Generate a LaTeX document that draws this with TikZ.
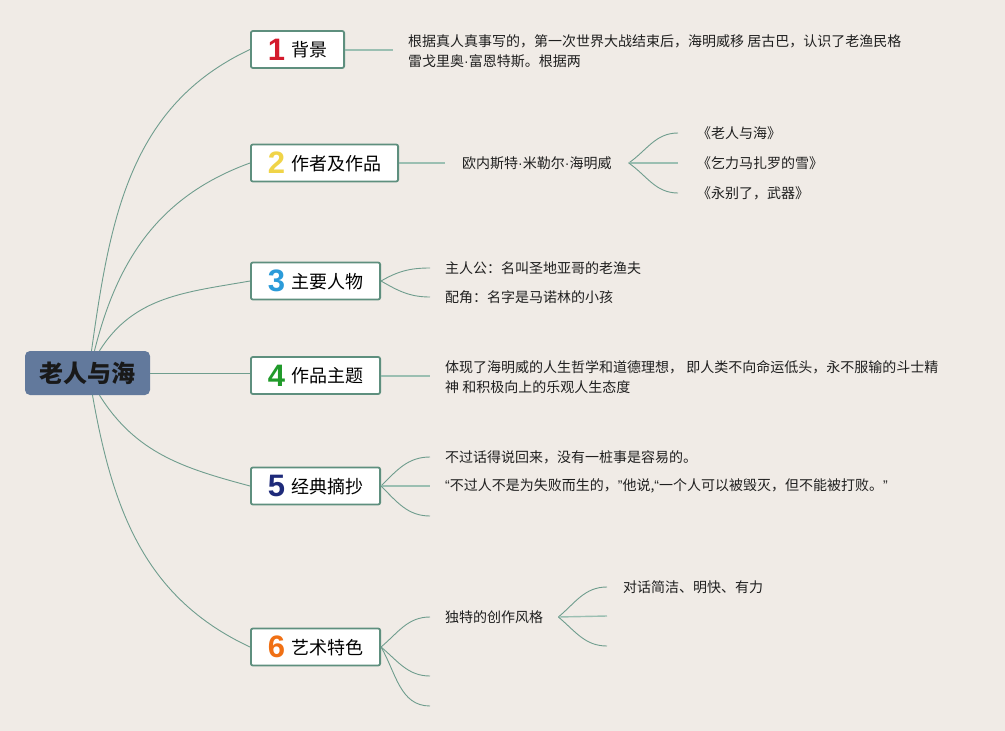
\documentclass[tikz,border=0pt]{standalone}
\usepackage{fontspec}
\setmainfont{Noto Sans CJK SC}
\newfontfamily\numfont{Liberation Sans}
\newfontfamily\latinfont{Liberation Sans}
\usepackage{xcolor}

\definecolor{paper}{HTML}{F0EBE6}
\definecolor{linegreen}{HTML}{6F9D8E}
\definecolor{stubgreen}{HTML}{9BBFB2}
\definecolor{boxline}{HTML}{5E8F7E}
\definecolor{rootfill}{HTML}{62799C}
\definecolor{numred}{HTML}{D41A2C}
\definecolor{numyellow}{HTML}{F0D448}
\definecolor{numblue}{HTML}{2B9BD9}
\definecolor{numgreen}{HTML}{209A2A}
\definecolor{numnavy}{HTML}{1E2A7A}
\definecolor{numorange}{HTML}{F07014}

\newcommand{\topicnum}[3]{\raisebox{-2pt}{\numfont\bfseries\fontsize{31}{31}\selectfont\color{#1}#2}\hspace{6pt}\raisebox{1.5pt}{#3}}
\newcommand{\mdot}{{\latinfont\textperiodcentered}}
\newcommand{\oq}{{\latinfont “}}
\newcommand{\cq}{{\latinfont ”}}

\begin{document}
\begin{tikzpicture}[
    x=1pt, y=1pt,
    rootnode/.style={rectangle, rounded corners=5pt, fill=rootfill, minimum width=125pt, minimum height=44pt, font=\bfseries\fontsize{24}{24}\selectfont, text=black!90},
    topic/.style={rectangle, rounded corners=2pt, draw=boxline, line width=1.8pt, fill=white, minimum height=37pt, inner xsep=17pt, inner ysep=0pt, anchor=west, font=\fontsize{18}{18}\selectfont},
    leaf/.style={anchor=west, inner xsep=15pt, inner ysep=2pt, align=left, text=black!88, font=\fontsize{14}{20}\selectfont},
    branch/.style={draw=linegreen, line width=0.9pt},
    stub/.style={draw=stubgreen, line width=2pt}
]

% Paper
\fill[paper] (0,0) rectangle (1005,-731);
\useasboundingbox (0,0) rectangle (1005,-731);

% Root and topics
\node[rootnode] (root) at (87.5,-373) {老人与海};
\node[topic] (bg) at (250,-49.5) {\topicnum{numred}{1}{背景}};
\node[topic] (zz) at (250,-163) {\topicnum{numyellow}{2}{作者及作品}};
\node[topic] (rw) at (250,-281) {\topicnum{numblue}{3}{主要人物}};
\node[topic] (zt) at (250,-375.5) {\topicnum{numgreen}{4}{作品主题}};
\node[topic] (zc) at (250,-486) {\topicnum{numnavy}{5}{经典摘抄}};
\node[topic] (ys) at (250,-647) {\topicnum{numorange}{6}{艺术特色}};

% Root branches
\draw[branch] ([xshift=4pt]root.north) to[out=82,in=205] (bg.west);
\draw[branch] ([xshift=7pt]root.north) to[out=76,in=200] (zz.west);
\draw[branch] ([xshift=12pt]root.north) to[out=58,in=190] (rw.west);
\draw[branch] (root.east) -- (root.east -| zt.west);
\draw[branch] ([xshift=12pt]root.south) to[out=-58,in=165] (zc.west);
\draw[branch] ([xshift=5pt]root.south) to[out=-80,in=155] (ys.west);

% 1 背景
\node[leaf] (bgtext) at (393,-51) {根据真人真事写的，第一次世界大战结束后，海明威移 居古巴，认识了老渔民格\\雷戈里奥\mdot 富恩特斯。根据两};
\draw[stub] (bg.east) -- (bg.east -| bgtext.west);

% 2 作者及作品
\node[leaf, inner xsep=17pt] (author) at (445,-163) {欧内斯特\mdot 米勒尔\mdot 海明威};
\draw[stub] (zz.east) -- (author.west);
\node[leaf, inner xsep=19pt] (book1) at (678,-133) {《老人与海》};
\node[leaf, inner xsep=19pt] (book2) at (678,-163) {《乞力马扎罗的雪》};
\node[leaf, inner xsep=19pt] (book3) at (678,-193) {《永别了，武器》};
\draw[branch] (author.east) to[out=35,in=180] (book1.west);
\draw[stub, line width=1.4pt] (author.east) -- (book2.west);
\draw[branch] (author.east) to[out=-35,in=180] (book3.west);

% 3 主要人物
\node[leaf] (hero) at (430,-268) {主人公：名叫圣地亚哥的老渔夫};
\node[leaf] (boy) at (430,-297) {配角：名字是马诺林的小孩};
\draw[branch] (rw.east) to[out=30,in=180] (hero.west);
\draw[branch] (rw.east) to[out=-30,in=180] (boy.west);

% 4 作品主题
\node[leaf] (zttext) at (430,-377) {体现了海明威的人生哲学和道德理想， 即人类不向命运低头，永不服输的斗士精\\神 和积极向上的乐观人生态度};
\draw[stub] (zt.east) -- (zt.east -| zttext.west);

% 5 经典摘抄
\node[leaf] (quote1) at (430,-457) {不过话得说回来，没有一桩事是容易的。};
\node[leaf] (quote2) at (430,-486) {\oq 不过人不是为失败而生的，\cq 他说,\oq 一个人可以被毁灭，但不能被打败。\cq};
\coordinate (quote3) at (430,-516);
\draw[branch] (zc.east) to[out=45,in=180] (quote1.west);
\draw[stub, line width=1.4pt] (zc.east) -- (quote2.west);
\draw[branch] (zc.east) to[out=-45,in=180] (quote3);

% 6 艺术特色
\node[leaf] (style) at (430,-617) {独特的创作风格};
\coordinate (art2) at (430,-676);
\coordinate (art3) at (430,-706);
\draw[branch] (ys.east) to[out=40,in=180] (style.west);
\draw[branch] (ys.east) to[out=-40,in=180] (art2);
\draw[branch] (ys.east) to[out=-60,in=180] (art3);

\node[leaf, inner xsep=16pt] (dialog) at (607,-587) {对话简洁、明快、有力};
\coordinate (style2) at (607,-616);
\coordinate (style3) at (607,-646);
\draw[branch] (style.east) to[out=40,in=180] (dialog.west);
\draw[stub, line width=1.4pt] (style.east) -- (style2);
\draw[branch] (style.east) to[out=-40,in=180] (style3);

\end{tikzpicture}
\end{document}
